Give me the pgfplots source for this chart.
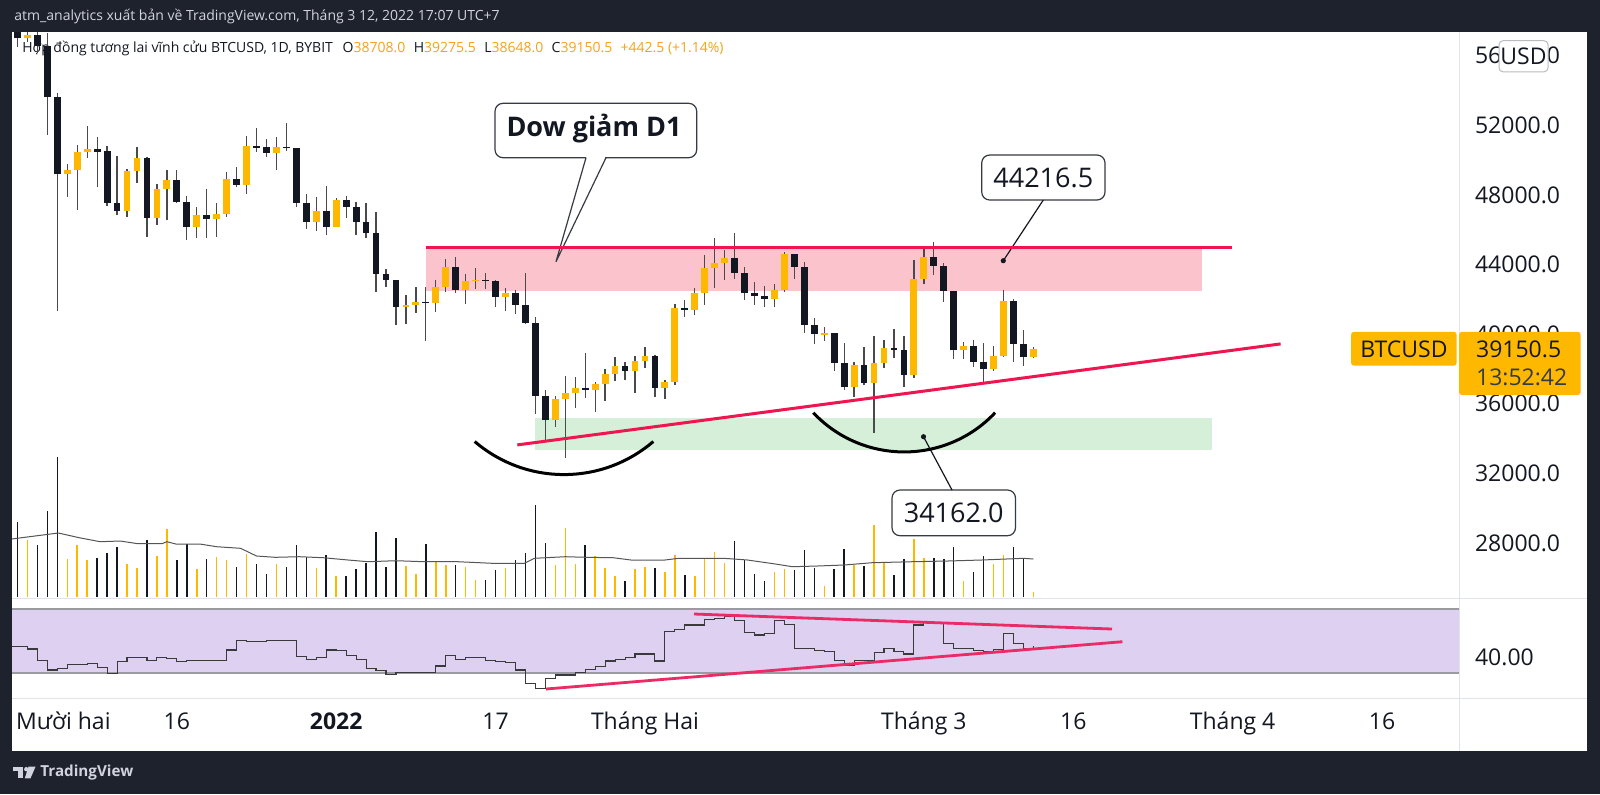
\documentclass[border=0pt]{standalone}
\usepackage{pgfplots}
\pgfplotsset{compat=1.18}
\usepackage{pgfplotstable}
\usepackage{fontspec}
\setmainfont{Open Sans}
\definecolor{bgdark}{HTML}{1E222D}
\definecolor{up}{HTML}{FFB800}
\definecolor{dn}{HTML}{131722}
\definecolor{wick}{HTML}{4A4A4A}
\definecolor{legval}{HTML}{F5A31A}
\definecolor{zonered}{HTML}{FBC4CD}
\definecolor{linered}{HTML}{EE1550}
\definecolor{rsired}{HTML}{EC2A66}
\definecolor{zonegreen}{HTML}{D6EFD9}
\definecolor{rsiband}{HTML}{DDD0F0}
\definecolor{sepgray}{HTML}{E0E3EB}
\definecolor{bandline}{HTML}{9A9AA2}
\definecolor{hdrtext}{HTML}{D1D4DC}
\definecolor{maline}{HTML}{555555}
\definecolor{rsiline}{HTML}{3A3A3A}

% day index: 0 = 1 Jan 2022; V = volume bar height (px)
\pgfplotstableread{
d O H L C V
-32 57900 59100 56522 57006 75.3
-31 57006 59000 56800 57200 57
-30 57200 57400 56143 56563 52
-29 56563 57300 51450 53650 86
-28 53650 53845 41333 49190 140.3
-27 49190 49780 47900 49437 38
-26 49437 50873 47138 50490 52
-25 50490 51965 50108 50640 37
-24 50640 51316 48477 50500 38.7
-23 50500 50816 47368 47560 43.7
-22 47560 50260 46850 47098 49.7
-21 47098 49476 46755 49379 33
-20 49379 50776 48670 50108 29.3
-19 50108 50200 45604 46660 57
-18 46660 48632 46276 48327 41
-17 48327 49437 46563 48862 68
-16 48862 49437 47520 47615 37
-15 47615 47960 45414 46143 53
-14 46143 47327 45510 46850 27.7
-13 46850 48327 45510 46620 38
-12 46620 47520 45604 46908 40.3
-11 46908 49305 46718 48920 37
-10 48920 49592 48477 48575 29.7
-9 48575 51390 48057 50835 43
-8 50835 51833 50490 50720 33
-7 50760 51200 50165 50395 23
-6 50395 51316 49437 50776 32.7
-5 50776 52120 50530 50683 30.3
-4 50683 50683 47327 47520 52
-3 47520 48057 46028 46448 40.3
-2 46448 47900 45950 47098 29
-1 47098 48517 45700 46178 42
0 46178 47845 46178 47713 21
1 47713 47960 46660 47327 21
2 47327 47615 45700 46466 27.7
3 46466 47520 45510 45833 33.7
4 45833 47040 42443 43442 65.3
5 43442 43727 42730 43115 29.7
6 43115 43115 40529 41546 58.7
7 41546 42253 40586 41678 31
8 41678 42730 41200 41850 23
9 41850 42730 39627 41810 52.7
10 41810 43115 41294 42730 34.7
11 42730 44303 42443 43880 32
12 43880 44418 42350 42540 32
13 42540 43460 41718 43075 30.3
14 43075 43785 42598 43130 17
15 43130 43500 42598 43060 17
16 43060 43115 41581 42156 27
17 42156 42636 41351 42386 29.3
18 42386 42540 41143 41678 37
19 41678 43500 40560 40627 43.7
20 40627 41006 35397 36466 92
21 36466 36793 33920 35070 53.7
22 35070 36466 34649 36258 32
23 36258 37598 32903 36638 68.7
24 36638 37523 35776 36925 33
25 36925 38902 36315 36793 52
26 36793 37253 35546 37138 41
27 37138 37982 36161 37713 29.3
28 37713 38707 37310 38173 21
29 38173 38422 37348 37903 16
30 37903 38747 36638 38460 27.7
31 38460 39283 38040 38747 30.3
32 38747 38805 36408 36925 29.3
33 36925 37368 36276 37270 24.7
34 37270 41736 37080 41488 42
35 41488 41966 41006 41390 22
36 41390 42636 41104 42350 21
37 42350 44552 41678 43822 39.3
38 43822 45512 42636 44075 44.7
39 44075 44839 43115 44400 34.3
40 44400 45833 43155 43500 56
41 43500 43880 41966 42386 37
42 42386 43017 41678 42195 23
43 42195 42788 41546 42040 16.3
44 42040 42865 41546 42540 24.7
45 42540 44741 42450 44590 28
46 44590 44590 43155 43880 27
47 43880 44167 40086 40529 47
48 40529 40914 39437 39994 29.3
49 39994 40431 39627 40086 11.3
50 40086 40086 37903 38362 27.7
51 38362 39477 36793 36983 48
52 36983 38422 36373 38230 32
53 38230 39283 37080 37213 31.3
54 37213 39925 34322 38327 72
55 38327 39667 38040 39188 35.3
56 39188 40299 38614 39092 22
57 39092 39897 36983 37655 38
58 37655 44264 37465 43172 57.7
59 43172 44935 42885 44455 38.7
60 44455 45316 43402 43920 38.7
61 43920 44110 41868 42483 38
62 42483 42483 38557 39092 49.7
63 39092 39570 38557 39340 16
64 39340 39667 38097 38385 25.3
65 38385 39477 37234 38000 41.3
66 38000 39340 37903 38747 32.7
67 38747 42540 38700 41926 42
68 41926 42023 38422 39437 49.7
69 39437 40241 38190 38707 39.3
70 38708 39275.5 38648 39150.5 5.3
}\ohlc

% volume moving average (px height)
\pgfplotstableread{
d m
-32.6 58
-27.9 64
-25.8 59.3
-23.7 55.3
-21.7 56
-19.9 53.3
-17.5 53.3
-17 55.3
-16.1 53
-13.7 53
-12 50.3
-9.6 48.7
-8 41
-6.1 39.7
-3.7 40.3
-1.3 39.3
1.2 37
3.2 35.3
6.0 36.3
8.8 35.3
12.2 35.3
15.7 33.7
18.9 33.7
19.9 38.7
23 40.3
25.1 39.7
27.8 39.3
29.6 37
33.0 37
34.4 38.7
38.9 38.7
41.3 37
44.1 33
45.8 30.3
48.3 31
51 32
53.8 34.3
57.9 35.3
61.4 36
64.8 37
69 38.7
70 38
}\vma

% RSI
\pgfplotstableread{
d R
-33 46.4
-32 46.4
-31 45.0
-30 38.1
-29 31.9
-28 32.9
-27 35.6
-26 35.6
-25 36.0
-24 33.5
-23 29.8
-22 37.1
-21 39.8
-20 39.8
-19 37.7
-18 39.8
-17 39.0
-16 37.1
-15 38.1
-14 37.7
-13 38.1
-12 38.1
-11 44.4
-10 50.6
-9 49.6
-8 49.6
-7 50.6
-6 50.2
-5 50.2
-4 40.6
-3 38.5
-2 39.8
-1 44.4
0 44.0
1 41.2
2 38.5
3 33.0
4 31.5
5 29.2
6 30.2
7 30.2
8 30.2
9 30.2
10 34.4
11 41.2
12 38.5
13 39.8
14 39.8
15 38.1
16 37.1
17 36.5
18 31.9
19 23.5
20 20.4
21 26.7
22 28.75
23 28.75
24 30.5
25 32.3
26 33.9
27 37.5
28 38.5
29 39.5
30 41.9
31 41.9
32 37.5
33 55.8
34 57.3
35 60.0
36 60.0
37 63.5
38 63.9
39 65.2
40 62.7
41 55.2
42 53.75
43 54.8
44 62.7
45 60.6
46 45.4
47 45.4
48 43.9
49 43.3
50 38.1
51 35.0
52 38.1
53 38.1
54 42.7
55 45.4
56 43.5
57 41.9
58 60.0
59 61.4
60 61.4
61 48.5
62 45.4
63 45.4
64 43.9
65 43.3
66 44.8
67 54.8
68 48.5
69 45.4
70 46.9
}\rsi

\pgfplotsset{
  tv/.style={scale only axis, width=723.5pt, xmin=-32.55, xmax=112.73,
    anchor=north west, axis line style={draw=none}, major tick length=0pt,
    xtick=\empty, ytick=\empty, clip=true,
    scaled y ticks=false, scaled x ticks=false,
    /pgf/number format/assume math mode=true,
    tick label style={font=\fontsize{11.5}{13}\selectfont, text=dn},
    yticklabel pos=right,
    yticklabel style={anchor=west, xshift=4.5pt},
  },
}

\begin{document}
\begin{tikzpicture}
% ---------- background, panes, zones (px coordinates, y down) ----------
\begin{scope}[x=0.5pt,y=-0.5pt]
  \fill[bgdark] (0,0) rectangle (1600,794);
  \fill[white] (12,32) rectangle (1587,751);
  \fill[zonered] (425.7,247.7) rectangle (1202,290.7);
  \fill[zonegreen] (535,418.3) rectangle (1212,450);
  \fill[rsiband] (12,609) rectangle (1459,673);
  \draw[bandline, line width=0.8pt] (12,609) -- (1459,609) (12,673) -- (1459,673);
  \draw[sepgray, line width=0.8pt] (12,598.3) -- (1587,598.3) (12,698.3) -- (1587,698.3) (1459.3,32) -- (1459.3,751);
  \node[anchor=west, inner sep=0, text=hdrtext, font=\fontsize{7}{8}\selectfont] at (14,16)
    {atm\_analytics xuất bản về TradingView.com, Tháng 3 12, 2022 17:07 UTC+7};
  \node[anchor=west, inner sep=0, text=dn, font=\fontsize{7}{8}\selectfont] at (22,48)
    {Hợp đồng tương lai vĩnh cửu BTCUSD, 1D, BYBIT\hspace{0.7em}O\textcolor{legval}{38708.0}\hspace{0.6em}H\textcolor{legval}{39275.5}\hspace{0.6em}L\textcolor{legval}{38648.0}\hspace{0.6em}C\textcolor{legval}{39150.5}\hspace{0.6em}\textcolor{legval}{+442.5 (+1.14\%)}};
\end{scope}

% ---------- volume ----------
\begin{axis}[tv, at={(6pt,-16pt)}, height=283pt, ymin=-1, ymax=565]
  \addplot[ycomb, draw=up, line width=0.75pt, mark=none,
    restrict expr to domain={\thisrow{C}-\thisrow{O}}{0:100000}]
    table[x=d, y=V] \ohlc;
  \addplot[ycomb, draw=dn, line width=0.75pt, mark=none,
    restrict expr to domain={\thisrow{C}-\thisrow{O}}{-100000:-0.001}]
    table[x=d, y=V] \ohlc;
  \addplot[sharp plot, draw=maline, line width=0.5pt, mark=none] table[x=d, y=m] \vma;
\end{axis}

% ---------- price / candles ----------
\begin{axis}[tv, at={(6pt,-16pt)}, height=283pt, ymin=24840, ymax=57367,
  ytick={28000,32000,36000,40000,44000,48000,52000,56000},
  yticklabel={\pgfmathprintnumber[fixed,fixed zerofill,precision=1,1000 sep={}]{\tick}}]
  % wicks
  \addplot[draw=none, mark=none,
    error bars/.cd, y dir=both, y explicit, error mark=none,
    error bar style={draw=wick, solid, line width=0.65pt}]
    table[x=d, y expr={(\thisrow{H}+\thisrow{L})/2}, y error expr={(\thisrow{H}-\thisrow{L})/2}] \ohlc;
  % up bodies
  \addplot[draw=none, mark=none,
    restrict expr to domain={\thisrow{C}-\thisrow{O}}{0:100000},
    error bars/.cd, y dir=both, y explicit, error mark=none,
    error bar style={draw=up, solid, line width=3.4pt}]
    table[x=d, y expr={(\thisrow{O}+\thisrow{C})/2}, y error expr={max(abs(\thisrow{C}-\thisrow{O})/2,40)}] \ohlc;
  % down bodies
  \addplot[draw=none, mark=none,
    restrict expr to domain={\thisrow{C}-\thisrow{O}}{-100000:-0.001},
    error bars/.cd, y dir=both, y explicit, error mark=none,
    error bar style={draw=dn, solid, line width=3.4pt}]
    table[x=d, y expr={(\thisrow{O}+\thisrow{C})/2}, y error expr={max(abs(\thisrow{C}-\thisrow{O})/2,40)}] \ohlc;
\end{axis}

% ---------- RSI ----------
\begin{axis}[tv, at={(6pt,-299pt)}, height=50pt, ymin=14.375, ymax=76.875,
  ytick={40},
  yticklabel={\pgfmathprintnumber[fixed,fixed zerofill,precision=2]{\tick}},
  xtick={-27.4,-16,0,16,31,59,74,90,105},
  xticklabels={Mười hai,16,\textbf{2022},17,Tháng Hai,Tháng 3,16,Tháng 4,16},
  xticklabel style={anchor=base, yshift=-15.5pt}]
  \addplot[const plot, draw=rsiline, line width=0.55pt, mark=none] table[x=d, y=R] \rsi;
\end{axis}

% ---------- drawings and labels ----------
\begin{scope}[x=0.5pt,y=-0.5pt]
  % callout: Dow giam D1
  \draw[draw=dn!85, line width=0.6pt, fill=white, rounded corners=4pt] (495,103.3) rectangle (696.7,157.7);
  \fill[white] (586.5,156.5) -- (605.5,156.5) -- (556,261.7) -- cycle;
  \draw[dn!85, line width=0.6pt] (586,157.7) -- (556,261.7) -- (606,157.7);
  \node[font=\bfseries\fontsize{13.5}{15}\selectfont, text=dn] at (594,129) {Dow giảm D1};
  % callout: 44216.5
  \draw[draw=dn!85, line width=0.6pt, fill=white, rounded corners=4pt] (981.7,155) rectangle (1105,200);
  \draw[dn, line width=0.6pt] (1043.3,200) -- (1003.3,260.7);
  \fill[dn] (1003.3,260.7) circle (2.6);
  \node[font=\fontsize{13.5}{15}\selectfont, text=dn] at (1043.3,177.5) {44216.5};
  % callout: 34162.0
  \draw[draw=dn!85, line width=0.6pt, fill=white, rounded corners=4pt] (892,490) rectangle (1015.5,535.7);
  \draw[dn, line width=0.6pt] (952,490) -- (923.5,436.7);
  \fill[dn] (923.5,436.7) circle (2.6);
  \node[font=\fontsize{13.5}{15}\selectfont, text=dn] at (953.7,512.8) {34162.0};
  % red lines
  \draw[linered, line width=1.5pt] (425.7,247.7) -- (1232,247.7);
  \draw[linered, line width=1.5pt] (517.3,444.9) -- (1280.6,343.9);
  \draw[rsired, line width=1.4pt] (694,614) -- (1112,629);
  \draw[rsired, line width=1.4pt] (546,689) -- (1122.4,641.7);
  % arcs
  \draw[black, line width=1.5pt] (474.7,441.5) .. controls (526.1,485.6) and (601.9,485.6) .. (653.3,441.5);
  \draw[black, line width=1.5pt] (813.3,412.7) .. controls (862.6,465) and (945.8,465) .. (995.1,412.7);
  % price labels
  \fill[up, rounded corners=1.5pt] (1351,331.8) rectangle (1456.7,365.7);
  \node[font=\fontsize{11.5}{13}\selectfont, text=dn] at (1404,349) {BTCUSD};
  \fill[up, rounded corners=1.5pt] (1459,331.8) rectangle (1580.7,395);
  \node[anchor=west, inner sep=0, font=\fontsize{11.5}{13}\selectfont, text=dn] at (1475.7,349) {39150.5};
  \node[anchor=west, inner sep=0, font=\fontsize{11.5}{13}\selectfont, text=dn!85] at (1475.7,377) {13:52:42};
  % USD box
  \draw[draw=sepgray!60!gray, fill=white, rounded corners=2pt, line width=0.5pt] (1499,40.7) rectangle (1548,71.8);
  \node[font=\fontsize{11.5}{13}\selectfont, text=dn] at (1523.5,56.3) {USD};
  % footer logo
  \fill[hdrtext] (13,766.7) rectangle (22.5,771);
  \fill[hdrtext] (17.5,771) rectangle (22.5,778.3);
  \fill[hdrtext] (26.3,769.2) circle (2.2);
  \fill[hdrtext] (28.5,766.7) -- (35.5,766.7) -- (30.5,778.3) -- (24.8,778.3) -- cycle;
  \node[anchor=west, inner sep=0, text=hdrtext, font=\bfseries\fontsize{7.6}{9}\selectfont] at (40,772.7) {TradingView};
\end{scope}
\end{tikzpicture}
\end{document}
